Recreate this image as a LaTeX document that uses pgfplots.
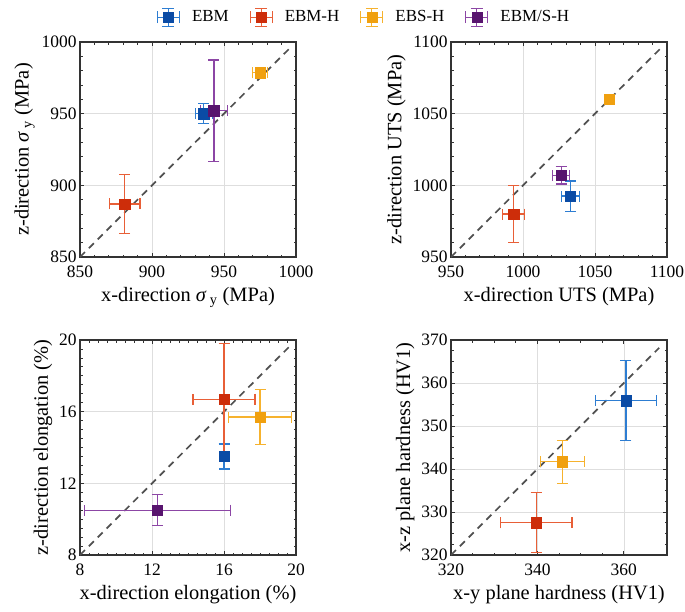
\documentclass[border=0pt]{standalone}
\usepackage{fontspec}
\setmainfont{Liberation Serif}
\usepackage{pgfplots}
\pgfplotsset{compat=1.18}
\definecolor{blueM}{RGB}{10,75,165}
\definecolor{blueE}{RGB}{45,125,210}
\definecolor{redM}{RGB}{205,45,10}
\definecolor{redE}{RGB}{232,95,55}
\definecolor{orM}{RGB}{240,160,15}
\definecolor{orE}{RGB}{246,178,45}
\definecolor{puM}{RGB}{88,20,110}
\definecolor{puE}{RGB}{140,70,165}
\definecolor{dashc}{RGB}{80,80,80}
\pgfplotsset{
 myaxis/.style={
  scale only axis, width=216bp, height=215bp,
  tick align=inside,
  grid=major, grid style={line width=0.6bp, black!13},
  major tick length=4bp, minor tick length=2.5bp,
  every tick/.style={black!80, line width=0.8bp},
  axis line style={line width=1.3bp, black!80},
  tick label style={font=\fontsize{17.5}{17.5}\selectfont},
  xticklabel style={yshift=-5bp},
  label style={font=\fontsize{20.5}{21}\selectfont},
  xlabel style={yshift=-3bp},
  /pgf/number format/assume math mode=true,
  /pgf/number format/1000 sep={},
 },
 ser/.style 2 args={only marks, mark=square*, mark size=5.2bp, color=#2,
   mark options={fill=#1, draw=#1, line width=0.5bp},
   error bars/x dir=both, error bars/y dir=both,
   error bars/x explicit, error bars/y explicit,
   error bars/error bar style={color=#2, line width=1.2bp},
   error bars/error mark options={color=#2, line width=1.2bp, mark size=5.5bp, rotate=90}},
 legimg/.style 2 args={legend image code/.code={
   \draw[color=#2, line width=1.1bp] (0bp,0bp) -- (22bp,0bp) (0bp,-6bp)--(0bp,6bp) (22bp,-6bp)--(22bp,6bp)
     (11bp,-9bp)--(11bp,9bp) (5bp,-9bp)--(17bp,-9bp) (5bp,9bp)--(17bp,9bp);
   \fill[#1] (6bp,-5bp) rectangle (16bp,5bp);
 }},
 dline/.style={no marks, dashc, line width=1.7bp, dash pattern=on 7bp off 5.5bp, forget plot},
}
\begin{document}
\begin{tikzpicture}
% Panel 1
\begin{axis}[myaxis, at={(80bp,-257bp)},
  xmin=850, xmax=1000, ymin=850, ymax=1000,
  xtick={850,900,950,1000}, ytick={850,900,950,1000}, minor tick num=4,
  xlabel={x-direction \textit{σ}\,\textsubscript{y} (MPa)},
  ylabel={z-direction \textit{σ}\,\textsubscript{y} (MPa)},
  legend style={at={(1.315,1.116)}, anchor=center, draw=none, fill=none,
    legend columns=4, font=\fontsize{17}{17}\selectfont,
    /tikz/every odd column/.append style={column sep=10bp},
    /tikz/every even column/.append style={column sep=19bp}},
  legend cell align=left]
\addplot[dline] coordinates {(850,850) (995,995)};
\addplot[legimg={blueM}{blueE}, ser={blueM}{blueE}] coordinates {(936,950) +- (6,7)};
\addlegendentry{EBM}
\addplot[legimg={redM}{redE}, ser={redM}{redE}] coordinates {(881,887) +- (10.7,20.7)};
\addlegendentry{EBM-H}
\addplot[legimg={orM}{orE}, ser={orM}{orE}] coordinates {(975,978.5) +- (5,1.5)};
\addlegendentry{EBS-H}
\addplot[legimg={puM}{puE}, ser={puM}{puE}] coordinates {(943,952) +- (9.3,35.5)};
\addlegendentry{EBM/S-H}
\end{axis}
% Panel 2
\begin{axis}[myaxis, at={(451bp,-257bp)},
  xmin=950, xmax=1100, ymin=950, ymax=1100,
  xtick={950,1000,1050,1100}, ytick={950,1000,1050,1100}, minor tick num=4,
  xlabel={x-direction UTS (MPa)},
  ylabel={z-direction UTS (MPa)}]
\addplot[dline] coordinates {(950,950) (1095,1095)};
\addplot[ser={blueM}{blueE}] coordinates {(1033,992.5) +- (6,10.5)};
\addplot[ser={redM}{redE}] coordinates {(993.5,980) +- (7.8,20)};
\addplot[ser={orM}{orE}] coordinates {(1060,1060) +- (3,2)};
\addplot[ser={puM}{puE}] coordinates {(1026.5,1007) +- (5.8,6)};
\end{axis}
% Panel 3
\begin{axis}[myaxis, at={(80bp,-555bp)},
  xmin=8, xmax=20, ymin=8, ymax=20,
  xtick={8,12,16,20}, ytick={8,12,16,20}, minor tick num=7,
  xlabel={x-direction elongation (\%)},
  ylabel={z-direction elongation (\%)}]
\addplot[dline] coordinates {(8,8) (19.65,19.65)};
\addplot[ser={blueM}{blueE}] coordinates {(16,13.5) +- (0.15,0.7)};
\addplot[ser={redM}{redE}] coordinates {(16,16.7) +- (1.72,3.1)};
\addplot[ser={orM}{orE}] coordinates {(18,15.7) +- (1.76,1.53)};
\addplot[ser={puM}{puE}] coordinates {(12.3,10.5) +- (4.07,0.87)};
\end{axis}
% Panel 4
\begin{axis}[myaxis, at={(451bp,-555bp)},
  xmin=320, xmax=370, ymin=320, ymax=370,
  xtick={320,340,360}, ytick={320,330,340,350,360,370},
  minor x tick num=3, minor y tick num=3,
  xlabel={x-y plane hardness (HV1)},
  ylabel={x-z plane hardness (HV1)}]
\addplot[dline] coordinates {(320,320) (368.2,368.2)};
\addplot[ser={blueM}{blueE}] coordinates {(360.5,355.9) +- (7,9.3)};
\addplot[ser={redM}{redE}] coordinates {(339.7,327.5) +- (8.3,7)};
\addplot[ser={orM}{orE}] coordinates {(345.8,341.7) +- (5.1,5)};
\end{axis}
\pgfresetboundingbox
\path[use as bounding box] (0,0) rectangle (685bp,-612bp);
\end{tikzpicture}
\end{document}
